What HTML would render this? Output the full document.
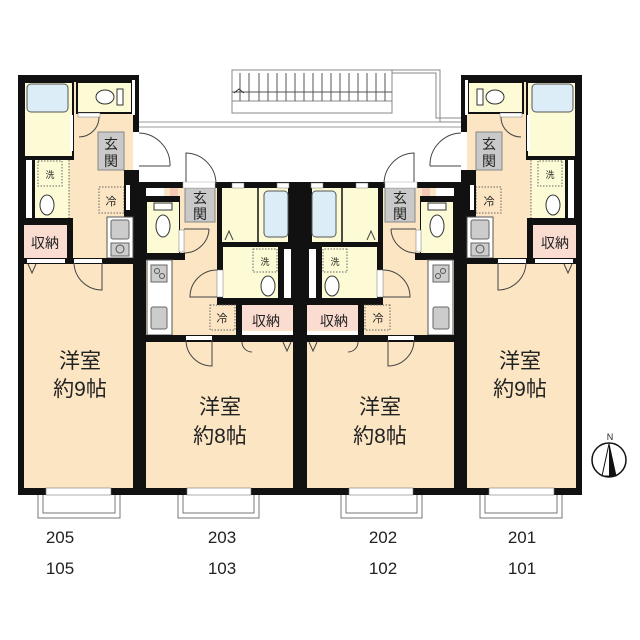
<!DOCTYPE html>
<html><head><meta charset="utf-8"><style>
html,body{margin:0;padding:0;background:#fff;}
svg{display:block;}
text{font-family:"Liberation Sans","Noto Sans CJK JP",sans-serif;fill:#222;}
</style></head><body>
<svg width="640" height="640" viewBox="0 0 640 640" xmlns="http://www.w3.org/2000/svg">
<defs>
<g id="half">
  <rect x="18" y="75" width="121" height="420" fill="#111"/>
  <rect x="24" y="82" width="109" height="406" fill="#fbe5c3"/>
  <rect x="24" y="82" width="49" height="75" fill="#fdfbd5" stroke="#111" stroke-width="2"/>
  <rect x="27" y="84" width="41" height="28" rx="4" fill="#dcedf8" stroke="#555" stroke-width="1"/>
  <rect x="70" y="115" width="3" height="36" fill="#fff"/>
  <rect x="77" y="82" width="55" height="31" fill="#fdfbd5" stroke="#111" stroke-width="2"/>
  <ellipse cx="105" cy="97" rx="9" ry="7" fill="#fff" stroke="#333"/>
  <rect x="117" y="89" width="6" height="16" fill="#fff" stroke="#333"/>
  <rect x="132" y="80" width="3" height="35" fill="#fff"/>
  <rect x="78" y="113" width="22" height="4" fill="#fff" stroke="#777" stroke-width="0.5"/>
  <path d="M99 117 A20 20 0 0 1 79 137" fill="none" stroke="#444"/>
  <rect x="98" y="132" width="26" height="38" fill="#c9c9c9" stroke="#888"/>
  <rect x="133" y="132" width="6" height="38" fill="#fff"/>
  <path d="M139 133 A32 32 0 0 1 170 166" fill="none" stroke="#444"/>
  <line x1="139" y1="166" x2="170" y2="166" stroke="#444"/>
  <rect x="126" y="171" width="6" height="12" fill="#fff"/>
  <rect x="24" y="157" width="50" height="3" fill="#111"/>
  <rect x="24" y="157" width="11" height="63" fill="#111"/>
  <rect x="26" y="160" width="6" height="58" fill="#fff"/>
  <rect x="35" y="160" width="34" height="59" fill="#fdfbd5"/>
  <rect x="38" y="161" width="24" height="25" fill="none" stroke="#666" stroke-dasharray="1.5,1.5"/>
  <ellipse cx="47" cy="205" rx="7" ry="10" fill="#fff" stroke="#333"/>
  <line x1="69" y1="160" x2="69" y2="219" stroke="#666" stroke-dasharray="1.5,1.5"/>
  <rect x="24" y="218" width="49" height="7" fill="#111"/>
  <rect x="67" y="218" width="6" height="46" fill="#111"/>
  <rect x="24" y="225" width="43" height="33" fill="#fbdcd0"/>
  <rect x="99" y="187" width="25" height="26" fill="none" stroke="#666" stroke-dasharray="1.5,1.5"/>
  <rect x="124" y="170" width="9" height="47" fill="#111"/>
  <rect x="126" y="185" width="4" height="25" fill="#fff"/>
  <rect x="107" y="217" width="26" height="41" fill="#fff" stroke="#555"/>
  <rect x="111" y="220" width="18" height="19" rx="2" fill="#ccc" stroke="#666"/>
  <rect x="111" y="243" width="18" height="13" fill="#ccc" stroke="#666"/>
  <circle cx="120" cy="249" r="4" fill="none" stroke="#555"/>
  <rect x="24" y="258" width="109" height="6" fill="#111"/>
  <rect x="27" y="259" width="38" height="4" fill="#fff"/>
  <rect x="74" y="259" width="28" height="4" fill="#fff"/>
  <path d="M74 263 A28 28 0 0 0 102 290 L102 263" fill="none" stroke="#444"/>
  <path d="M28 264 L32 273 L36 264" fill="none" stroke="#444"/>
  <rect x="46" y="488" width="65" height="7" fill="#fff" stroke="#777" stroke-width="0.6"/>
  <path d="M38 495 V518 H120 V495 M43 495 V513 H115 V495" fill="none" stroke="#777"/>

  <rect x="139" y="182" width="167" height="313" fill="#111"/>
  <rect x="146" y="188" width="147" height="300" fill="#fbe5c3"/>
  <rect x="146" y="188" width="18" height="11" fill="#fff"/>
  <rect x="170" y="188" width="8" height="8" fill="#f5c8b8"/>
  <rect x="146" y="196" width="34" height="64" fill="#111"/>
  <rect x="147" y="202" width="32" height="51" fill="#fdfbd5"/>
  <rect x="154" y="203" width="18" height="7" fill="#fff" stroke="#333"/>
  <ellipse cx="163" cy="226" rx="7" ry="11" fill="#fff" stroke="#333"/>
  <rect x="179" y="230" width="5" height="22" fill="#fff" stroke="#777" stroke-width="0.5"/>
  <rect x="185" y="188" width="30" height="34" fill="#c9c9c9" stroke="#888"/>
  <path d="M186 185 V153 A31 31 0 0 1 216 184" fill="none" stroke="#444"/>
  <rect x="183" y="182" width="32" height="6" fill="#fff" stroke="#aaa" stroke-width="0.5"/>
  <path d="M184 253 A25 25 0 0 0 209 229" fill="none" stroke="#444"/>
  <line x1="184" y1="229" x2="209" y2="229" stroke="#444"/>
  <rect x="217" y="188" width="76" height="57" fill="#111"/>
  <rect x="222" y="188" width="66" height="54" fill="#fdfbd5"/>
  <line x1="258" y1="188" x2="258" y2="242" stroke="#111" stroke-width="1.5"/>
  <rect x="264" y="191" width="24" height="46" rx="4" fill="#dcedf8" stroke="#555"/>
  <rect x="232" y="183" width="12" height="5" fill="#fff" stroke="#777" stroke-width="0.5"/>
  <rect x="277" y="183" width="12" height="5" fill="#fff" stroke="#777" stroke-width="0.5"/>
  <path d="M225 240 L229 231 L233 240" fill="none" stroke="#444"/>
  <rect x="217" y="245" width="76" height="60" fill="#111"/>
  <rect x="223" y="247" width="55" height="51" fill="#fdfbd5"/>
  <rect x="253" y="249" width="24" height="23" fill="none" stroke="#666" stroke-dasharray="1.5,1.5"/>
  <ellipse cx="268" cy="286" rx="7" ry="10" fill="#fff" stroke="#333"/>
  <rect x="284" y="249" width="7" height="49" fill="#fff"/>
  <rect x="217" y="270" width="6" height="27" fill="#fff" stroke="#777" stroke-width="0.5"/>
  <path d="M217 270 A27 27 0 0 0 190 297 H217" fill="none" stroke="#444"/>
  <rect x="146" y="253" width="39" height="7" fill="#111"/>
  <rect x="147" y="260" width="25" height="75" fill="#fff" stroke="#555"/>
  <rect x="151" y="265" width="16" height="17" fill="#ccc" stroke="#666"/>
  <circle cx="157" cy="271" r="2.5" fill="none" stroke="#555"/>
  <circle cx="162" cy="276" r="2.5" fill="none" stroke="#555"/>
  <rect x="151" y="307" width="16" height="22" rx="2" fill="#ccc" stroke="#666"/>
  <rect x="210" y="305" width="25" height="25" fill="none" stroke="#666" stroke-dasharray="1.5,1.5"/>
  <rect x="236" y="305" width="6" height="30" fill="#111"/>
  <rect x="242" y="305" width="51" height="25" fill="#fbdcd0"/>
  <rect x="146" y="335" width="147" height="7" fill="#111"/>
  <rect x="186" y="336" width="26" height="4" fill="#fff"/>
  <path d="M186 340 A26 26 0 0 0 212 366 V340" fill="none" stroke="#444"/>
  <rect x="242" y="331" width="51" height="4" fill="#fff"/>
  <path d="M242 342 A10 10 0 0 0 252 352" fill="none" stroke="#444"/>
  <path d="M283 342 L287 351 L291 342" fill="none" stroke="#444"/>
  <rect x="187" y="488" width="64" height="7" fill="#fff" stroke="#777" stroke-width="0.6"/>
  <path d="M178 495 V518 H259 V495 M183 495 V513 H254 V495" fill="none" stroke="#777"/>
  <line x1="139" y1="122" x2="300" y2="122" stroke="#999"/>
  <line x1="139" y1="127" x2="300" y2="127" stroke="#999"/>
</g>
</defs>
<use href="#half"/>
<use href="#half" transform="translate(600,0) scale(-1,1)"/>
<g fill="none" stroke="#888">
  <path d="M232 70 H440 V122 H461"/>
  <path d="M232 73 H436 V118 H461"/>
  <rect x="232" y="70" width="160" height="43" fill="#fff"/>
  <rect x="232" y="101" width="160" height="12" fill="#fff"/>
  <path d="M240 73 V101 M249 73 V101 M259 73 V101 M268 73 V101 M277 73 V101 M286 73 V101 M295 73 V101 M304 73 V101 M313 73 V101 M322 73 V101 M331 73 V101 M340 73 V101 M349 73 V101 M358 73 V101 M367 73 V101 M376 73 V101 M385 73 V101 M232 92 H392" stroke="#555"/>
  <path d="M234 93 L239 89 L244 93" stroke="#333"/>
</g>
<g font-size="14" text-anchor="middle">
<text x="111" y="149">玄</text><text x="111" y="166">関</text>
<text x="200" y="203">玄</text><text x="200" y="219">関</text>
<text x="400" y="203">玄</text><text x="400" y="219">関</text>
<text x="489" y="149">玄</text><text x="489" y="166">関</text>
</g>
<g font-size="9" text-anchor="middle">
<text x="50" y="178">洗</text><text x="265" y="265">洗</text>
<text x="550" y="178">洗</text><text x="335" y="265">洗</text>
</g>
<g font-size="11" text-anchor="middle">
<text x="111" y="205">冷</text><text x="222" y="322">冷</text>
<text x="489" y="205">冷</text><text x="378" y="322">冷</text>
</g>
<g font-size="14" text-anchor="middle">
<text x="45" y="248">収納</text><text x="266" y="326">収納</text>
<text x="555" y="248">収納</text><text x="334" y="326">収納</text>
</g>
<g font-size="21" text-anchor="middle">
<text x="80" y="368">洋室</text><text x="80" y="396">約9帖</text>
<text x="220" y="414">洋室</text><text x="220" y="443">約8帖</text>
<text x="380" y="414">洋室</text><text x="380" y="443">約8帖</text>
<text x="520" y="368">洋室</text><text x="520" y="396">約9帖</text>
</g>
<g font-size="17" text-anchor="middle">
<text x="60" y="543">205</text><text x="60" y="574">105</text>
<text x="222" y="543">203</text><text x="222" y="574">103</text>
<text x="383" y="543">202</text><text x="383" y="574">102</text>
<text x="522" y="543">201</text><text x="522" y="574">101</text>
</g>
<circle cx="609" cy="460" r="17" fill="none" stroke="#111" stroke-width="1.5"/>
<path d="M609 444 L602 476 L616 476 Z" fill="none" stroke="#111"/>
<path d="M609 444 L609 476 L616 476 Z" fill="#111"/>
<text x="610" y="440" font-size="9" text-anchor="middle">N</text>
</svg>
</body></html>
